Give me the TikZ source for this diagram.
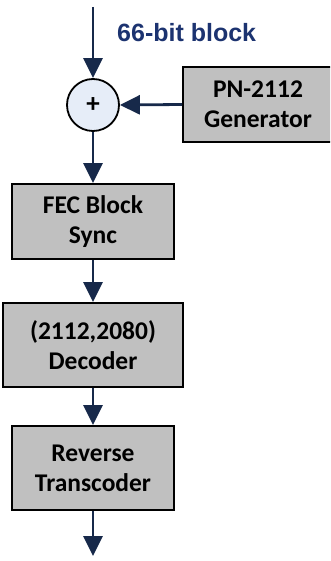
\documentclass[tikz,border=0pt]{standalone}
\usepackage{fontspec}
\setmainfont{Carlito}
\newfontfamily\labelfont{Liberation Sans}
\usetikzlibrary{arrows.meta}
\definecolor{navy}{HTML}{17294A}
\definecolor{lblue}{HTML}{1C3370}
\definecolor{boxgray}{HTML}{C0C0C0}
\definecolor{circfill}{HTML}{E6EDF8}
\begin{document}
\begin{tikzpicture}[x=1pt,y=-1pt,
  blk/.style={draw=black, line width=1.8pt, fill=boxgray, align=center, inner sep=0pt,
    font=\fontsize{25.5}{30}\selectfont\bfseries},
  conn/.style={draw=navy, line width=2.8pt, -{Triangle[length=20pt,width=19pt]}}]
\useasboundingbox (0,0) rectangle (330,561);
\begin{scope}
\clip (0,0) rectangle (330,561);
\node[circle, draw=black, line width=1.8pt, fill=circfill, minimum size=52pt, inner sep=0pt,
  font=\fontsize{27}{30}\selectfont\bfseries] (sum) at (93,105) {+};
\node[blk, minimum width=150pt, minimum height=75pt] (pn) at (258,104.5) {PN-2112\\Generator};
\end{scope}
\node[blk, minimum width=162pt, minimum height=75pt] (fec) at (93,221.5) {FEC Block\\Sync};
\node[blk, minimum width=180pt, minimum height=84pt] (dec) at (93,345) {(2112,2080)\\Decoder};
\node[blk, minimum width=162pt, minimum height=84pt] (rt) at (93,468) {Reverse\\Transcoder};
\coordinate (in) at (93,7);
\coordinate (out) at (93,556);
\node[anchor=base west, text=lblue, font=\labelfont\fontsize{25}{30}\selectfont\bfseries, inner sep=0pt] (lbl) at (117,42) {66-bit block};
\draw[conn] (in) -- (sum.north);
\draw[conn] (pn.west) -- (sum.east);
\draw[conn] (sum.south) -- (fec.north);
\draw[conn] (fec.south) -- (dec.north);
\draw[conn] (dec.south) -- (rt.north);
\draw[conn] (rt.south) -- (out);
\end{tikzpicture}
\end{document}
